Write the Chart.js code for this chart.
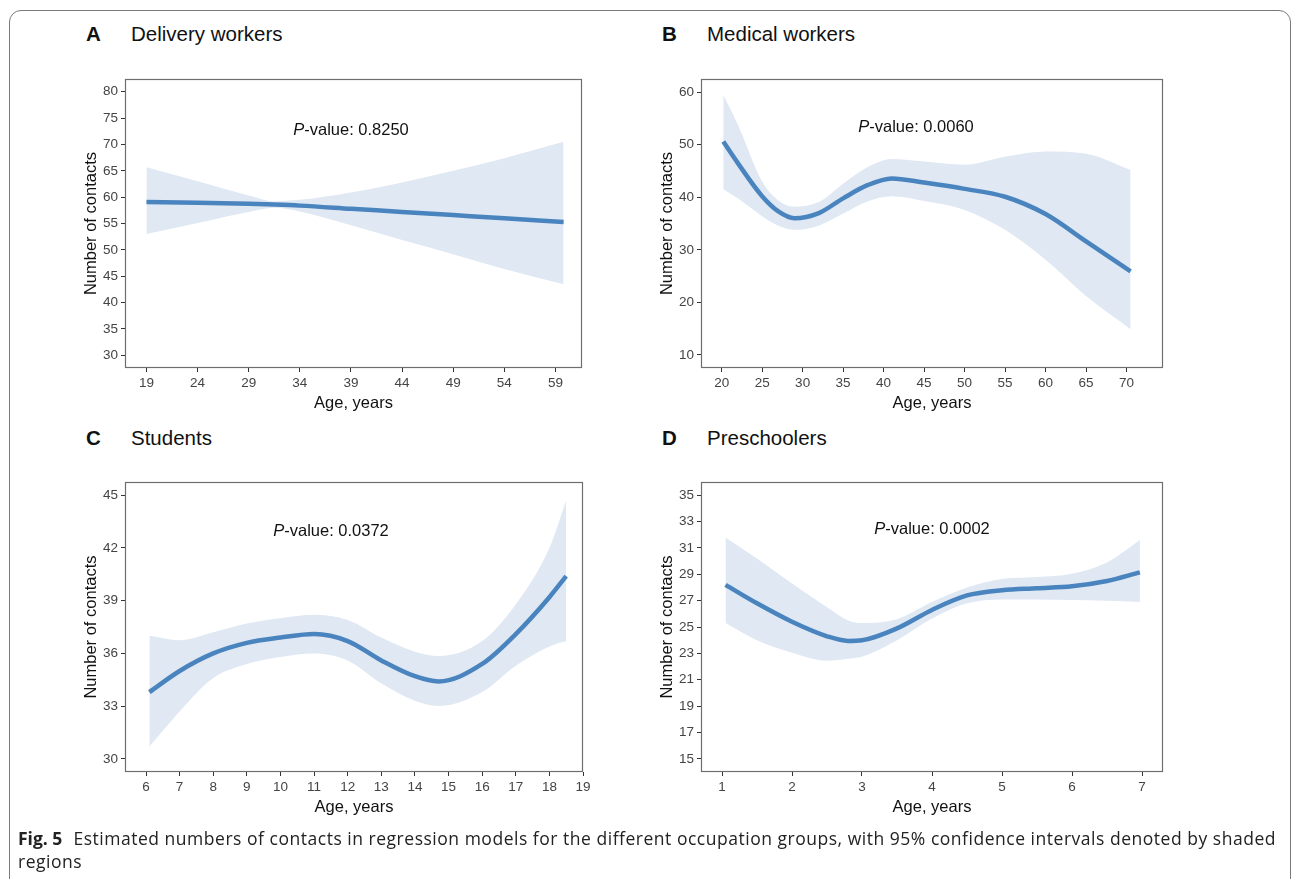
<!DOCTYPE html>
<html>
<head>
<meta charset="utf-8">
<script src="https://cdn.jsdelivr.net/npm/chart.js@4.4.0/dist/chart.umd.min.js"></script>
<style>
  body { margin: 0; width: 1293px; height: 879px; overflow: hidden; background: #fff; position: relative; font-family: "Liberation Sans", Arial, sans-serif; }
  .frame { position: absolute; left: 9px; top: 10px; width: 1280px; height: 880px; border: 1.5px solid #7a7a7a; border-radius: 12px; }
  canvas { position: absolute; }
  .lbl { position: absolute; font-size: 20.5px; line-height: 1; color: #111; white-space: nowrap; }
  .lbl b { display: inline-block; width: 45px; }
  .pv { position: absolute; font-size: 16.5px; line-height: 1; color: #111; white-space: nowrap; transform: translate(-50%, -50%); }
  .cap { position: absolute; left: 18px; top: 827px; width: 1268px; font-family: "Open Sans", sans-serif; font-size: 17.5px; line-height: 23px; color: #222; letter-spacing: 0.52px; }
  .cap b { font-weight: 700; margin-right: 6px; letter-spacing: 0; }
</style>
</head>
<body>
<div class="frame"></div>

<div class="lbl" style="left:86px; top:24px"><b>A</b>Delivery workers</div>
<div class="lbl" style="left:662px; top:24px"><b>B</b>Medical workers</div>
<div class="lbl" style="left:86px; top:428px"><b>C</b>Students</div>
<div class="lbl" style="left:662px; top:428px"><b>D</b>Preschoolers</div>

<canvas id="chartA" width="542" height="362" style="left:60px; top:68px"></canvas>
<canvas id="chartB" width="547" height="362" style="left:636px; top:68px"></canvas>
<canvas id="chartC" width="543" height="363" style="left:60px; top:471px"></canvas>
<canvas id="chartD" width="547" height="363" style="left:636px; top:471px"></canvas>

<div class="pv" style="left:351px; top:129px"><i>P</i>-value: 0.8250</div>
<div class="pv" style="left:916px; top:126px"><i>P</i>-value: 0.0060</div>
<div class="pv" style="left:331px; top:530px"><i>P</i>-value: 0.0372</div>
<div class="pv" style="left:932px; top:528px"><i>P</i>-value: 0.0002</div>

<div class="cap"><b>Fig. 5</b> Estimated numbers of contacts in regression models for the different occupation groups, with 95% confidence intervals denoted by shaded regions</div>

<script>
// A - delivery workers
const agesA  = [19, 24, 29, 31.5, 34, 39, 44, 49, 54, 59.8];
const fitA   = [59.1, 58.95, 58.75, 58.6, 58.4, 57.8, 57.2, 56.6, 56.0, 55.3];
const upperA = [65.7, 63.0, 60.3, 59.2, 59.5, 60.9, 62.8, 65.0, 67.4, 70.5];
const lowerA = [53.0, 55.1, 57.2, 58.0, 57.3, 54.7, 51.9, 49.2, 46.4, 43.5];
const xTicksA = [19, 24, 29, 34, 39, 44, 49, 54, 59];
const yTicksA = [30, 35, 40, 45, 50, 55, 60, 65, 70, 75, 80];

// B - medical workers
const agesB  = [20.2, 22, 25, 27, 29, 32, 35, 38, 41, 45, 50, 55, 60, 65, 70.5];
const fitB   = [50.6, 46.5, 40.2, 37.3, 36.0, 37.0, 39.8, 42.3, 43.6, 42.8, 41.6, 40.1, 36.8, 31.6, 25.9];
const upperB = [59.5, 53.8, 43.0, 39.4, 38.2, 39.1, 42.6, 45.7, 47.3, 46.8, 46.2, 47.7, 48.7, 48.3, 45.2];
const lowerB = [41.6, 39.8, 36.4, 34.6, 33.8, 34.6, 36.9, 39.2, 40.2, 39.3, 37.6, 33.8, 28.1, 21.2, 14.9];
const xTicksB = [20, 25, 30, 35, 40, 45, 50, 55, 60, 65, 70];
const yTicksB = [10, 20, 30, 40, 50, 60];

// C - students
const agesC  = [6.1, 7, 8, 9, 10, 11, 12, 13, 14, 14.7, 16, 17, 18, 18.5];
const fitC   = [33.8, 35.0, 36.0, 36.6, 36.9, 37.1, 36.7, 35.6, 34.7, 34.4, 35.4, 37.1, 39.2, 40.4];
const upperC = [37.0, 36.75, 37.2, 37.7, 38.0, 38.2, 37.9, 36.9, 36.1, 35.85, 36.7, 38.8, 42.0, 44.7];
const lowerC = [30.7, 32.7, 34.6, 35.4, 35.8, 36.0, 35.6, 34.3, 33.3, 33.0, 33.8, 35.3, 36.4, 36.7];
const xTicksC = [6, 7, 8, 9, 10, 11, 12, 13, 14, 15, 16, 17, 18, 19];
const yTicksC = [30, 33, 36, 39, 42, 45];

// D - preschoolers
const agesD  = [1.05, 1.5, 2, 2.5, 2.8, 3, 3.5, 4, 4.5, 5, 5.5, 6, 6.5, 6.97];
const fitD   = [28.2, 26.8, 25.4, 24.3, 23.95, 24.0, 24.9, 26.3, 27.4, 27.8, 27.95, 28.1, 28.5, 29.15];
const upperD = [31.8, 30.2, 28.3, 26.5, 25.5, 25.3, 25.6, 26.9, 28.0, 28.65, 28.8, 29.05, 29.9, 31.6];
const lowerD = [25.3, 24.0, 23.05, 22.45, 22.6, 22.75, 24.0, 25.65, 26.8, 27.1, 27.1, 27.05, 27.0, 26.9];
const xTicksD = [1, 2, 3, 4, 5, 6, 7];
const yTicksD = [15, 17, 19, 21, 23, 25, 27, 29, 31, 33, 35];

const lineColor = "#4a84bf";
const bandColor = "#dfe8f3";
const tickColor = "#444";
const fontFam = '"Liberation Sans", Arial, sans-serif';

// box round the plot area, like ggplot's panel border
const panelBorder = {
  id: "panelBorder",
  afterDatasetsDraw(chart) {
    const a = chart.chartArea, ctx = chart.ctx;
    ctx.save();
    ctx.strokeStyle = "#6e6e6e";
    ctx.lineWidth = 1.2;
    ctx.strokeRect(Math.round(a.left) + 0.5, Math.round(a.top) + 0.5,
      Math.round(a.right - a.left) - 1, Math.round(a.bottom - a.top) - 1);
    ctx.restore();
  }
};

function pts(xs, ys) {
  return xs.map((x, i) => ({ x, y: ys[i] }));
}

function makePanel(id, ages, fit, upper, lower, xTicks, yTicks, xMin, xMax, yMin, yMax) {
  new Chart(document.getElementById(id), {
    type: "line",
    data: {
      datasets: [
        { data: pts(ages, fit), borderColor: lineColor, borderWidth: 4.5, pointRadius: 0,
          cubicInterpolationMode: "monotone", fill: false, order: 0 },
        { data: pts(ages, upper), borderWidth: 0, borderColor: "rgba(0,0,0,0)", pointRadius: 0,
          backgroundColor: bandColor, cubicInterpolationMode: "monotone", fill: "+1", order: 1 },
        { data: pts(ages, lower), borderWidth: 0, borderColor: "rgba(0,0,0,0)", pointRadius: 0,
          cubicInterpolationMode: "monotone", fill: false, order: 2 }
      ]
    },
    options: {
      responsive: false,
      animation: false,
      layout: { padding: { top: 10, right: 20, left: 0, bottom: 0 } },
      plugins: { legend: { display: false }, tooltip: { enabled: false } },
      scales: {
        x: {
          type: "linear", min: xMin, max: xMax,
          afterBuildTicks: s => { s.ticks = xTicks.map(v => ({ value: v })); },
          afterFit: s => { s.height = 62; },
          grid: { drawOnChartArea: false, drawTicks: true, tickLength: 4, color: "#333" },
          border: { display: false },
          ticks: { color: tickColor, font: { family: fontFam, size: 13.5 }, padding: 3,
                   maxRotation: 0, autoSkip: false, callback: v => String(v) },
          title: { display: true, text: "Age, years", color: "#111",
                   font: { family: fontFam, size: 16.5 }, padding: { top: 0, bottom: 17 } }
        },
        y: {
          type: "linear", min: yMin, max: yMax,
          afterBuildTicks: s => { s.ticks = yTicks.map(v => ({ value: v })); },
          afterFit: s => { s.width = 65; },
          grid: { drawOnChartArea: false, drawTicks: true, tickLength: 4, color: "#333" },
          border: { display: false },
          ticks: { color: tickColor, font: { family: fontFam, size: 13.5 }, padding: 3,
                   autoSkip: false, callback: v => String(v) },
          title: { display: true, text: "Number of contacts", color: "#111",
                   font: { family: fontFam, size: 16.5 }, padding: { top: 22, bottom: 0 } }
        }
      }
    },
    plugins: [panelBorder]
  });
}

makePanel("chartA", agesA, fitA, upperA, lowerA, xTicksA, yTicksA, 16.9, 61.6, 27.6, 82.4);
makePanel("chartB", agesB, fitB, upperB, lowerB, xTicksB, yTicksB, 17.45, 74.5, 7.5, 62.5);
makePanel("chartC", agesC, fitC, upperC, lowerC, xTicksC, yTicksC, 5.375, 19, 29.25, 45.75);
makePanel("chartD", agesD, fitD, upperD, lowerD, xTicksD, yTicksD, 0.7, 7.3, 14.0, 36.0);
</script>
</body>
</html>
